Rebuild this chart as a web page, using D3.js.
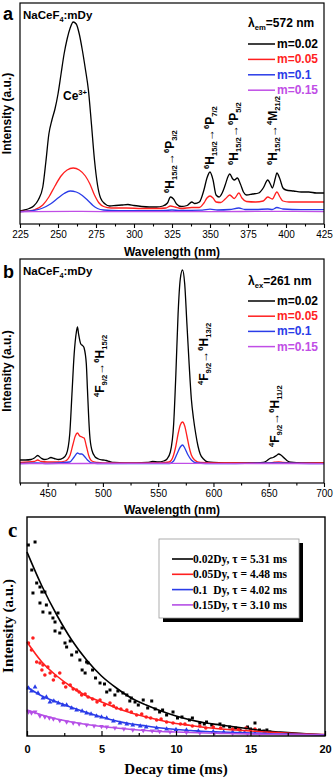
<!DOCTYPE html>
<html>
<head>
<meta charset="utf-8">
<script src="https://cdn.jsdelivr.net/npm/d3@7"></script>
<style>
body { margin: 0; background: #fff; }
svg { display: block; }
text { font-family: "Liberation Sans", Arial, sans-serif; }
text.serif { font-family: "Liberation Serif", "Times New Roman", serif; }
</style>
</head>
<body>
<div id="chart"></div>
<script>
// ---- panel a : excitation spectra (lambda em = 572 nm) ----
var aTicks = [225, 250, 275, 300, 325, 350, 375, 400, 425];
var aMinor = [237.5, 262.5, 287.5, 312.5, 337.5, 362.5, 387.5, 412.5];
var seriesLabels = ["m=0.02", "m=0.05", "m=0.1", "m=0.15"];
var colors = ["#000000", "#ff1f1f", "#2a3ce8", "#c04ee6"];

var aM002 = [[225,1],[228,2],[231,3.5],[234,6],[237,12],[240,25],[242,50],[244,78],[246,92],[248,103],[250,118],[252,138],[254,158],[256,173],[258,184],[260,190],[262,188],[264,178],[266,162],[268,143],[270,122],[272,88],[274,52],[276,27],[278,14],[281,8],[284,6],[288,6.5],[292,7],[296,7.5],[300,6.5],[305,5.5],[310,5],[315,5],[319,6],[322,9],[324,15],[326,13],[328,8],[331,5.5],[335,6.5],[338,10],[340,8.5],[343,10],[346,22],[348,34],[350,40],[352,32],[354,17],[356,15],[358,19],[360,27],[362,36],[363,38],[365,33],[366,32],[368,34],[370,28],[372,20],[374,17],[378,18],[382,19],[385,24],[388,32],[390,27],[391,24],[393,34],[394,39],[396,33],[398,24],[400,22],[405,21],[410,20],[415,20],[420,19],[425,19]];
var aM005 = [[225,0.5],[230,1],[235,2.5],[240,7],[244,15],[248,26],[252,36],[256,42],[260,44],[264,42],[268,36],[271,28],[274,17],[277,9],[280,5.5],[285,4],[295,4],[305,3.5],[315,3.5],[321,4],[324,6],[327,5],[331,3.5],[338,4.5],[343,4.5],[346,9],[348,14],[350,16],[352,14],[354,10],[357,9.5],[360,13],[363,17],[366,13.5],[369,19],[371,14],[374,10.5],[380,10],[385,11],[388,15],[391,13],[394,20],[396,15],[398,11],[402,10],[425,10]];
var aM01 = [[225,0.3],[230,0.8],[235,1.8],[240,4],[245,8],[250,14],[254,18.5],[258,21],[262,20],[266,16.5],[270,11],[273,6.5],[276,3.5],[280,2],[290,1.3],[300,1.3],[320,1.5],[325,2],[330,1.5],[345,1.8],[350,2.8],[355,2],[363,2.5],[369,4],[373,2.5],[380,2.5],[388,3],[391,2.5],[394,4.5],[398,3],[410,2.3],[425,2.3]];
var aM015 = [[225,0.2],[260,0.6],[300,0.3],[350,0.4],[394,0.6],[425,0.4]];

// ---- panel b : emission spectra (lambda ex = 261 nm) ----
var bTicks = [450, 500, 550, 600, 650, 700];
var bMinor = [425, 475, 525, 575, 625, 675];
var bM002 = [[425,4],[430,4],[435,4.5],[438,6],[441,8.5],[444,6],[447,4.5],[450,5],[453,6.5],[456,5.5],[460,4.5],[464,6],[467,10],[470,30],[472,70],[474,110],[476,132],[477,137],[478,130],[480,120],[482,118],[483,116],[485,100],[486,75],[487,50],[488,30],[490,14],[493,7],[496,5],[500,4],[503,3.5],[506,2.5],[510,1.5],[520,1.2],[530,1.2],[540,1.5],[545,2.5],[550,2],[555,3],[558,5],[561,12],[564,40],[566,90],[568,150],[570,185],[572,194],[574,180],[576,140],[578,100],[580,65],[582,45],[584,30],[586,18],[588,10],[591,5],[595,2],[600,1.5],[620,1],[640,1],[645,1.5],[648,3],[651,5.5],[654,6.5],[657,8.5],[659,10],[661,9],[664,6],[667,3],[670,1.8],[680,1],[700,1]];
var bM005 = [[425,1.5],[438,2.5],[441,4],[444,2.5],[450,2],[460,2],[466,3],[470,8],[473,20],[475,28],[477,31],[479,28],[481,27],[483,26],[485,18],[487,9],[490,3],[495,1.5],[500,1],[550,1],[560,2],[563,6],[566,18],[568,30],[570,39],[572,42],[574,38],[576,28],[578,17],[580,9],[583,4],[588,1.5],[600,1],[650,1],[655,1.8],[659,2.2],[663,1.5],[670,1],[700,1]];
var bM01 = [[425,0.5],[440,1],[450,0.5],[470,2],[474,7],[477,11],[479,10],[481,10],[483,8],[486,4],[490,1],[500,0.5],[560,0.5],[564,3],[567,10],[570,17],[572,19],[574,16],[577,9],[580,4],[585,1],[600,0.3],[658,1],[700,0.3]];
var bM015 = [[425,0.3],[480,0.5],[572,0.6],[700,0.3]];

// ---- panel c : decay curves ----
var cTicks = [0, 5, 10, 15, 20];
var cMinor = [2.5, 7.5, 12.5, 17.5];
var cLabels = ["0.02Dy, \u03c4 = 5.31 ms", "0.05Dy, \u03c4 = 4.48 ms", "0.1  Dy, \u03c4 = 4.02 ms", "0.15Dy, \u03c4 = 3.10 ms"];
var cM002Pts = [[0.09,191],[0.54,194],[0.32,166],[0.65,153],[0.87,149],[0.4,143],[1.0,144],[1.2,144],[0.87,133],[1.07,124],[1.3,131],[1.54,123],[1.74,118],[2.08,123],[1.88,114],[2.35,108],[1.88,105],[2.2,103],[2.55,93],[2.66,89],[2.9,95],[3.0,81],[3.33,84],[3.55,76],[3.7,66],[4.0,74],[4.1,73],[3.9,63],[4.4,66],[4.6,58],[4.9,53],[5.2,52],[5.35,44],[5.57,46],[5.9,41],[6.1,45],[6.44,43],[6.7,41],[6.9,35],[7.0,38],[7.25,34],[7.47,31],[7.8,36],[8.1,28],[8.37,35],[8.6,27],[8.9,24],[9.1,26],[9.37,21],[9.8,24],[10.1,18],[10.4,19],[10.9,16],[11.1,18],[11.6,13],[11.9,12],[12.05,14],[12.4,11],[12.95,12],[13.2,10],[13.6,9],[14.0,8],[14.3,6],[14.8,9],[15.0,7],[15.3,13],[15.6,6],[15.9,5],[16.1,6],[16.3,4]];
var cM005Pts = [[0.1,93],[0.3,86],[0.4,98],[0.65,74],[0.87,73],[1.0,66],[1.07,71],[1.2,61],[1.4,69],[1.55,63],[1.77,56],[1.9,60],[2.2,63],[2.44,53],[2.6,49],[2.9,51],[3.1,47],[3.33,46],[3.5,44],[3.67,41],[3.9,42],[4.1,39],[4.4,37],[4.7,34],[4.9,36],[5.2,31],[5.57,33],[5.8,30],[6.0,28],[6.3,27],[6.7,26],[7.0,24],[7.36,21],[7.7,22],[8.0,19],[8.3,18],[8.7,16],[9.0,17],[9.37,14],[9.8,13],[10.3,12],[10.6,12],[11.1,10],[11.6,10],[12.0,8],[12.5,9],[13.0,8],[13.8,7],[14.2,7],[14.7,8],[15.0,6],[15.3,7]];
var cM01Pts = [[0.1,48],[0.3,45],[0.54,49],[0.74,43],[1.07,38],[1.3,39],[1.54,34],[1.8,35],[2.1,33],[2.4,31],[2.66,31],[3.0,28],[3.33,26],[3.7,25],[4.0,23],[4.3,22],[4.67,20],[5.0,19],[5.35,18],[5.8,15],[6.24,13],[6.7,12],[7.1,11],[7.6,10],[8.0,9],[8.7,8],[9.37,7],[10.0,6.5],[10.7,6],[11.5,5],[12.5,4.5],[13.2,4],[13.8,4],[14.6,3.5],[15.3,3],[16,3]];
var cM015Pts = [[0.1,24],[0.3,23],[0.54,24],[0.87,20],[1.2,19],[1.5,18],[1.77,17],[2.2,15.5],[2.66,14],[3.1,13],[3.5,12],[4.0,11],[4.5,10],[5.0,9.5],[5.35,9],[5.9,8],[6.5,7],[7.1,6],[7.8,5.5],[8.4,5],[8.9,4.5],[9.6,4],[10.7,3.5],[11.6,3],[12.6,3],[13.8,2.5],[14.8,2.2],[15.6,2]];
var cM002Fit = [[0,184],[1,150],[2,121],[3,96],[4,76],[5,60],[6,48],[7,38],[8,31],[9,25],[10,20],[11,16],[12,13],[13,11],[14,9],[15,7],[16,5],[17,4],[18,3],[19,2],[20,1]];
var cM005Fit = [[0,94],[1,74],[2,60],[3,49],[4,40],[5,34],[6,28],[7,23],[8,19],[9,15.5],[10,12.5],[11,10.5],[12,8.5],[13,7],[14,6],[15,5],[16,4],[17,3.2],[18,2.5],[19,2],[20,1.5]];
var cM01Fit = [[0,49],[1,40],[2,34],[3,28.5],[4,23.5],[5,19],[6,15],[7,12],[8,10],[9,8],[10,6.5],[11,5.5],[12,4.5],[13,4],[14,3.5],[15,3],[16,2.5],[17,2],[18,1.8],[19,1.5],[20,1.2]];
var cM015Fit = [[0,26],[1,21],[2,17],[3,14],[4,11.5],[5,9.5],[6,8],[7,6.5],[8,5.5],[9,4.5],[10,4],[11,3.5],[12,3],[13,2.6],[14,2.3],[15,2],[16,1.8],[17,1.6],[18,1.4],[19,1.2],[20,1]];

var svg = d3.select("#chart").append("svg")
    .attr("width", 334)
    .attr("height", 779);
svg.append("rect").attr("width", 334).attr("height", 779).attr("fill", "#fff");

// text with sub/superscripts: parts = [[string, ""|"sub"|"sup"], ...]
function rich(sel, parts, size) {
    var t = sel.append("text").attr("font-size", size).attr("font-weight", "bold");
    var shift = 0;
    parts.forEach(function (p) {
        var target = p[1] == "sub" ? size * 0.28 : p[1] == "sup" ? -size * 0.4 : 0;
        t.append("tspan")
            .attr("dy", target - shift)
            .attr("font-size", p[1] ? size * 0.64 : size)
            .text(p[0]);
        shift = target;
    });
    return t;
}

function spectrum(p) {
    var g = svg.append("g");
    var x = d3.scaleLinear().domain(p.xDomain).range([p.box[0], p.box[0] + p.box[2]]);
    var y = d3.scaleLinear().domain(p.yDomain).range(p.yRange);
    var line = d3.line()
        .x(function (d) { return x(d[0]); })
        .y(function (d) { return y(d[1]); })
        .curve(d3.curveMonotoneX);

    p.series.forEach(function (s, i) {
        g.append("path")
            .attr("d", line(s))
            .attr("fill", "none")
            .attr("stroke", colors[i])
            .attr("stroke-width", 1.3);
    });

    g.append("rect")
        .attr("x", p.box[0]).attr("y", p.box[1])
        .attr("width", p.box[2]).attr("height", p.box[3])
        .attr("fill", "none").attr("stroke", "#000").attr("stroke-width", 1.2);

    var bottom = p.box[1] + p.box[3];
    var ax = g.append("g")
        .attr("transform", "translate(0," + bottom + ")")
        .call(d3.axisBottom(x).tickValues(p.ticks).tickSize(4).tickPadding(3).tickFormat(d3.format("d")));
    ax.select(".domain").remove();
    ax.selectAll("line").attr("stroke-width", 1.1);
    ax.selectAll("text").attr("font-size", 10);
    var mx = g.append("g")
        .attr("transform", "translate(0," + bottom + ")")
        .call(d3.axisBottom(x).tickValues(p.minor).tickSize(2.5).tickFormat(""));
    mx.select(".domain").remove();
    mx.selectAll("line").attr("stroke-width", 1.1);

    g.append("text")
        .attr("x", (p.box[0] + p.box[0] + p.box[2]) / 2).attr("y", p.xTitleY)
        .attr("text-anchor", "middle").attr("font-size", 12).attr("font-weight", "bold")
        .text("Wavelength (nm)");
    g.append("text")
        .attr("transform", "translate(11," + (p.box[1] + p.box[3] / 2) + ") rotate(-90)")
        .attr("text-anchor", "middle").attr("font-size", 12).attr("font-weight", "bold")
        .text("Intensity (a.u.)");

    g.append("text")
        .attr("x", 3).attr("y", p.letterY)
        .attr("font-size", 18).attr("font-weight", "bold")
        .text(p.letter);
    rich(g, [["NaCeF", ""], ["4", "sub"], [":mDy", ""]], 11.5)
        .attr("x", 23).attr("y", p.sampleY);

    rich(g, p.legendTitle, 12).attr("x", 248).attr("y", p.legendY);
    seriesLabels.forEach(function (lab, i) {
        var by = p.rowY + i * p.rowStep;
        g.append("line")
            .attr("x1", 248).attr("x2", 275)
            .attr("y1", by - 4).attr("y2", by - 4)
            .attr("stroke", colors[i]).attr("stroke-width", 1.5);
        g.append("text")
            .attr("x", 277).attr("y", by)
            .attr("font-size", 12).attr("font-weight", "bold")
            .attr("fill", colors[i])
            .text(lab);
    });

    p.notes.forEach(function (n) {
        var ng = g.append("g").attr("transform", "translate(" + n.x + "," + n.y + ") rotate(-90)");
        rich(ng, n.parts, 12);
    });
    return g;
}

var ga = spectrum({
    box: [20, 3, 304, 221],
    xDomain: [225, 425], yDomain: [0, 190], yRange: [212, 22],
    ticks: aTicks, minor: aMinor,
    series: [aM002, aM005, aM01, aM015],
    xTitleY: 256, letter: "a", letterY: 20, sampleY: 19,
    legendTitle: [["\u03bb", ""], ["em", "sub"], ["=572 nm", ""]],
    legendY: 27, rowY: 48, rowStep: 15.4,
    notes: [
        { x: 174, y: 193, parts: [["6", "sup"], ["H", ""], ["15/2", "sub"], ["\u2192", ""], ["6", "sup"], ["P", ""], ["3/2", "sub"]] },
        { x: 214, y: 169, parts: [["6", "sup"], ["H", ""], ["15/2", "sub"], ["\u2192", ""], ["6", "sup"], ["P", ""], ["7/2", "sub"]] },
        { x: 238, y: 165, parts: [["6", "sup"], ["H", ""], ["15/2", "sub"], ["\u2192", ""], ["6", "sup"], ["P", ""], ["5/2", "sub"]] },
        { x: 277, y: 165, parts: [["6", "sup"], ["H", ""], ["15/2", "sub"], ["\u2192", ""], ["4", "sup"], ["M", ""], ["21/2", "sub"]] }
    ]
});
rich(ga, [["Ce", ""], ["3+", "sup"]], 12).attr("x", 63).attr("y", 100);

spectrum({
    box: [20, 259, 304, 224],
    xDomain: [425, 700], yDomain: [0, 194], yRange: [464, 270],
    ticks: bTicks, minor: bMinor,
    series: [bM002, bM005, bM01, bM015],
    xTitleY: 514, letter: "b", letterY: 278, sampleY: 275,
    legendTitle: [["\u03bb", ""], ["ex", "sub"], ["=261 nm", ""]],
    legendY: 285, rowY: 305, rowStep: 15.2,
    notes: [
        { x: 104, y: 397, parts: [["4", "sup"], ["F", ""], ["9/2", "sub"], ["\u2192", ""], ["6", "sup"], ["H", ""], ["15/2", "sub"]] },
        { x: 208, y: 385, parts: [["4", "sup"], ["F", ""], ["9/2", "sub"], ["\u2192", ""], ["6", "sup"], ["H", ""], ["13/2", "sub"]] },
        { x: 279, y: 447, parts: [["4", "sup"], ["F", ""], ["9/2", "sub"], ["\u2192", ""], ["6", "sup"], ["H", ""], ["11/2", "sub"]] }
    ]
});

// ---- panel c ----
var xc = d3.scaleLinear().domain([0, 20]).range([27, 325]);
var yc = d3.scaleLinear().domain([0, 219]).range([736, 517]);
var gc = svg.append("g");
var fitLine = d3.line()
    .x(function (d) { return xc(d[0]); })
    .y(function (d) { return yc(d[1]); })
    .curve(d3.curveMonotoneX);

var cPts = [cM002Pts, cM005Pts, cM01Pts, cM015Pts];
var cFits = [cM002Fit, cM005Fit, cM01Fit, cM015Fit];
var symbols = [d3.symbolSquare, d3.symbolCircle, d3.symbolTriangle, d3.symbolTriangle];
var cColors = ["#000000", "#ff1f1f", "#2a3ce8", "#b54fe6"];

cPts.forEach(function (pts, i) {
    gc.append("g").selectAll("path")
        .data(pts)
        .enter().append("path")
        .attr("d", d3.symbol().type(symbols[i]).size(i == 0 ? 9 : 10))
        .attr("transform", function (d) {
            return "translate(" + xc(d[0]) + "," + yc(d[1]) + ")" + (i == 3 ? " rotate(180)" : "");
        })
        .attr("fill", cColors[i]);
});
cFits.forEach(function (f, i) {
    gc.append("path")
        .attr("d", fitLine(f))
        .attr("fill", "none")
        .attr("stroke", cColors[i])
        .attr("stroke-width", 1.6);
});

gc.append("rect")
    .attr("x", 27).attr("y", 517).attr("width", 298).attr("height", 219)
    .attr("fill", "none").attr("stroke", "#000").attr("stroke-width", 1.4);

var cx = gc.append("g")
    .attr("transform", "translate(0,736)")
    .call(d3.axisBottom(xc).tickValues(cTicks).tickSizeInner(-5).tickSizeOuter(0).tickPadding(9));
cx.select(".domain").remove();
cx.selectAll("line").attr("stroke-width", 1.2);
cx.selectAll("text").attr("font-size", 11).attr("font-weight", "bold");
var cmx = gc.append("g")
    .attr("transform", "translate(0,736)")
    .call(d3.axisBottom(xc).tickValues(cMinor).tickSizeInner(-3).tickSizeOuter(0).tickFormat(""));
cmx.select(".domain").remove();
cmx.selectAll("line").attr("stroke-width", 1.2);

gc.append("text")
    .attr("class", "serif")
    .attr("x", 176).attr("y", 774)
    .attr("text-anchor", "middle")
    .attr("font-size", 15).attr("font-weight", "bold")
    .text("Decay time (ms)");
gc.append("text")
    .attr("class", "serif")
    .attr("transform", "translate(13,626) rotate(-90)")
    .attr("text-anchor", "middle")
    .attr("font-size", 15).attr("font-weight", "bold")
    .text("Intensity (a.u.)");
gc.append("text")
    .attr("class", "serif")
    .attr("x", 8).attr("y", 537)
    .attr("font-size", 21).attr("font-weight", "bold")
    .text("c");

// legend with drop shadow
gc.append("rect")
    .attr("x", 163).attr("y", 543).attr("width", 140).attr("height", 79)
    .attr("fill", "#000");
gc.append("rect")
    .attr("x", 159).attr("y", 539).attr("width", 140).attr("height", 79)
    .attr("fill", "#fff").attr("stroke", "#999").attr("stroke-width", 0.8);
cLabels.forEach(function (lab, i) {
    var by = 563 + i * 15.3;
    gc.append("line")
        .attr("x1", 172).attr("x2", 193)
        .attr("y1", by - 4).attr("y2", by - 4)
        .attr("stroke", cColors[i]).attr("stroke-width", 1.6);
    gc.append("text")
        .attr("class", "serif")
        .attr("x", 193).attr("y", by)
        .attr("font-size", 11.5).attr("font-weight", "bold")
        .style("white-space", "pre")
        .text(lab);
});
</script>
</body>
</html>
